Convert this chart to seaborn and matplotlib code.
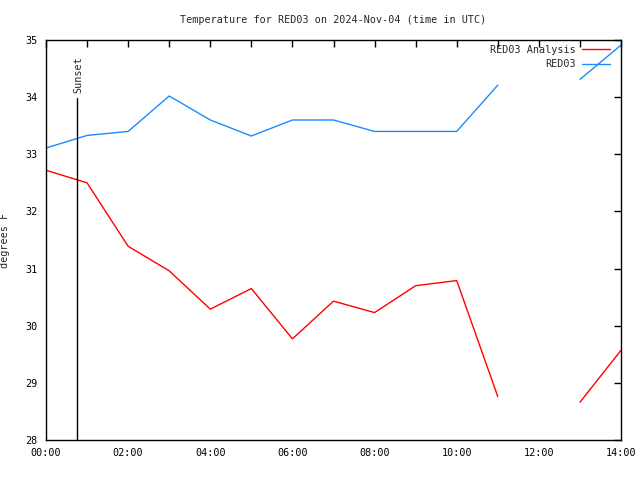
import numpy as np
import pandas as pd
import matplotlib
matplotlib.use("Agg")
import matplotlib.pyplot as plt
import seaborn as sns

hours = [0, 1, 2, 3, 4, 5, 6, 7, 8, 9, 10, 11, 13, 14]
analysis = [32.72, 32.50, 31.39, 30.96, 30.29, 30.65, 29.77, 30.43, 30.23, 30.70, 30.79, 28.76, 28.66, 29.57]
obs = [33.11, 33.33, 33.40, 34.02, 33.60, 33.32, 33.60, 33.60, 33.40, 33.40, 33.40, 34.21, 34.31, 34.91]
segment = [0] * 12 + [1] * 2
tick_hours = list(range(0, 15))
tick_labels = [f"{h:02d}:00" if h % 2 == 0 else "" for h in tick_hours]
sunset_hour = 0.75

sns.set_style("white")
plt.rcParams['font.family'] = ['DejaVu Sans Mono']
FS = 7.3

df = pd.DataFrame({
    "hour": hours * 2,
    "temp": analysis + obs,
    "series": ["RED03 Analysis"] * len(hours) + ["RED03"] * len(hours),
    "seg": segment * 2,
})

fig = plt.figure(figsize=(6.4, 4.8), dpi=100)
ax = fig.add_axes([46 / 640, 40 / 480, (621 - 46) / 640, 400 / 480])

sns.lineplot(data=df, x="hour", y="temp", hue="series", units="seg", estimator=None,
             palette={"RED03 Analysis": "#ff0000", "RED03": "#1a8cff"},
             linewidth=1.0, ax=ax, legend=False)

ax.set_xlim(0, 14)
ax.set_ylim(28, 35)
ax.set_xticks(tick_hours)
ax.set_xticklabels(tick_labels)
ax.set_yticks(range(28, 36))
ax.tick_params(direction="in", length=5, width=1, top=True, right=True, labelsize=FS, pad=6, colors="black")
for s in ax.spines.values():
    s.set_color("black")
    s.set_linewidth(1)
ax.set_xlabel("")
ax.set_ylabel("degrees F", fontsize=FS)
ax.yaxis.set_label_coords((10 - 46) / 575, 0.5)
ax.set_title("Temperature for RED03 on 2024-Nov-04 (time in UTC)", fontsize=FS, pad=12.5)

# sunset marker
ax.plot([sunset_hour, sunset_hour], [28, 33.98], color="black", linewidth=1)
ax.text(sunset_hour + 0.04, 34.08, "Sunset", rotation=90, fontsize=FS, ha="center", va="bottom")

# legend (gnuplot style)
from matplotlib.lines import Line2D
handles = [Line2D([], [], color="#ff0000", lw=1), Line2D([], [], color="#1a8cff", lw=1)]
leg = ax.legend(handles, ["RED03 Analysis", "RED03"], loc="upper right", frameon=False,
                bbox_to_anchor=((610 - 46) / 575, (440 - 45) / 400),
                fontsize=FS, markerfirst=False, handlelength=2.8, handletextpad=0.6,
                borderaxespad=0.0, borderpad=0.0, labelspacing=0.4)
for t in leg.get_texts():
    t.set_ha("right")
leg._legend_box.align = "right"

fig.savefig("out.png", dpi=100)
